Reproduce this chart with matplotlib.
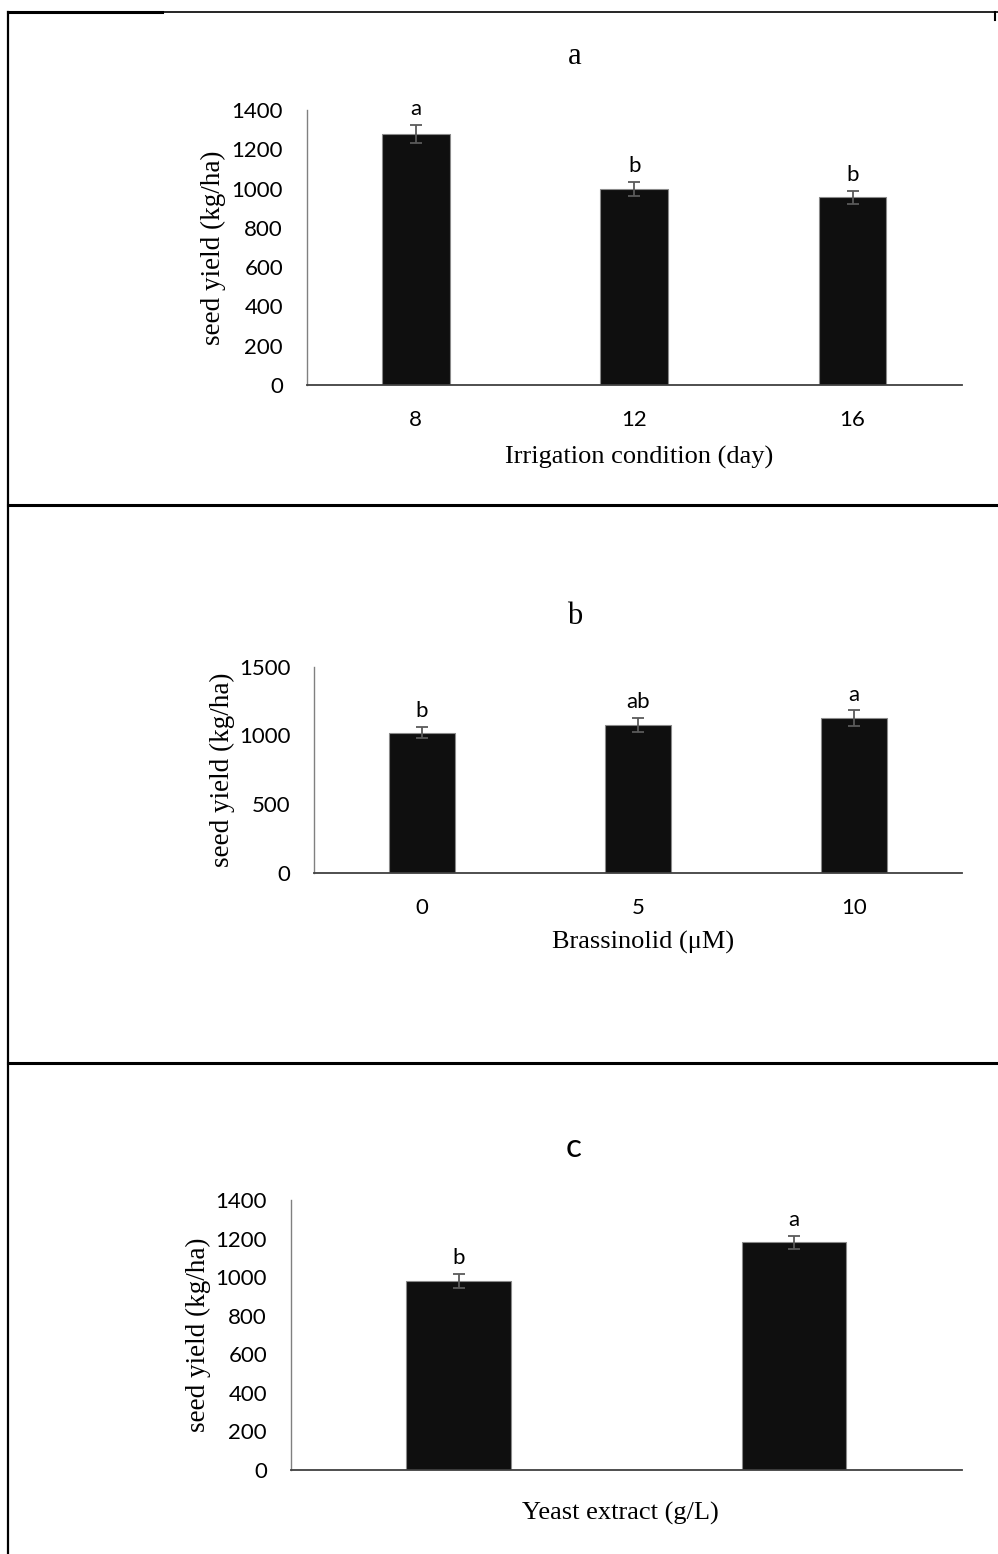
import matplotlib
matplotlib.use('Agg')
import matplotlib.pyplot as plt
from matplotlib.lines import Line2D

# panel a: irrigation interval
irrigation = ['8', '12', '16']
yield_irr = [1280, 1000, 955]
err_irr = [46, 36, 35]
letters_irr = ['a', 'b', 'b']

# panel b: brassinolid
brassinolid = ['0', '5', '10']
yield_br = [1020, 1075, 1125]
err_br = [42, 50, 58]
letters_br = ['b', 'ab', 'a']

# panel c: yeast extract (no tick labels in the source)
yeast = ['', '']
yield_ye = [980, 1180]
err_ye = [37, 35]
letters_ye = ['b', 'a']

W, H = 998, 1554
SANS = ['Lato', 'DejaVu Sans']
SERIF = ['Liberation Serif', 'DejaVu Serif']

fig = plt.figure(figsize=(W / 100, H / 100), dpi=100)


def fx(x):
    return x / W


def fy(y):
    return 1 - y / H


def panel(box, cats, vals, errs, letters, ymax, ystep, ylab_x):
    left, right, top, bottom = box
    ax = fig.add_axes([fx(left), fy(bottom), (right - left) / W, (bottom - top) / H])
    x = range(len(cats))
    ax.bar(x, vals, width=0.31, color='#0f0f0f', edgecolor='#8a8a8a', linewidth=0.8, zorder=2)
    ax.errorbar(x, vals, yerr=errs, fmt='none', ecolor='#5a5a5a', elinewidth=1.3,
                capsize=4, capthick=1.3, zorder=3)
    for i, (v, e, l) in enumerate(zip(vals, errs, letters)):
        ax.annotate(l, (i, v + e), xytext=(0, 7), textcoords='offset points',
                    ha='center', va='baseline', fontsize=16, family=SANS)
    ax.set_xlim(-0.5, len(cats) - 0.5)
    ax.set_ylim(0, ymax)
    ax.set_yticks(range(0, ymax + 1, ystep))
    ax.set_xticks(list(x))
    ax.set_xticklabels(cats)
    for t in ax.get_xticklabels() + ax.get_yticklabels():
        t.set_family(SANS)
        t.set_fontsize(16)
    ax.tick_params(axis='y', length=0, pad=17)
    ax.tick_params(axis='x', length=0, pad=18)
    ax.spines['top'].set_visible(False)
    ax.spines['right'].set_visible(False)
    ax.spines['left'].set_color('#808080')
    ax.spines['left'].set_linewidth(1.0)
    ax.spines['bottom'].set_color('#404040')
    ax.spines['bottom'].set_linewidth(1.3)
    fig.text(fx(ylab_x), fy((top + bottom) / 2), 'seed yield (kg/ha)', rotation=90,
             ha='center', va='center', fontsize=19.5, family=SERIF)
    return ax


panel((306.7, 961.7, 110, 385), irrigation, yield_irr, err_irr, letters_irr, 1400, 200, 213)
fig.text(fx(575), fy(57), 'a', ha='center', va='center', fontsize=22, family=SERIF)
fig.text(fx(639), fy(457), 'Irrigation condition (day)', ha='center', va='center',
         fontsize=19, family=SERIF)

panel((314, 962, 666.7, 872.7), brassinolid, yield_br, err_br, letters_br, 1500, 500, 222)
fig.text(fx(575), fy(617), 'b', ha='center', va='center', fontsize=22, family=SERIF)
fig.text(fx(643), fy(942), 'Brassinolid (\u03bcM)', ha='center', va='center',
         fontsize=19, family=SERIF)

panel((290.7, 962, 1200, 1470), yeast, yield_ye, err_ye, letters_ye, 1400, 200, 198)
fig.text(fx(574), fy(1148), 'c', ha='center', va='center', fontsize=24, family=SANS)
fig.text(fx(620), fy(1513), 'Yeast extract (g/L)', ha='center', va='center',
         fontsize=19, family=SERIF)

# frame lines around / between the panels
frame = [
    ((8, 998), (12, 12), 1.2),
    ((8, 162), (12, 12), 2.2),
    ((8, 8), (12, H), 1.6),
    ((995, 995), (12, 20), 1.5),
    ((8, 998), (505, 505), 2.2),
    ((8, 998), (1063, 1063), 2.2),
]
for xs, ys, lw in frame:
    fig.add_artist(Line2D([fx(v) for v in xs], [fy(v) for v in ys], color='black',
                          linewidth=lw, transform=fig.transFigure))

fig.savefig('out.png', dpi=100)
